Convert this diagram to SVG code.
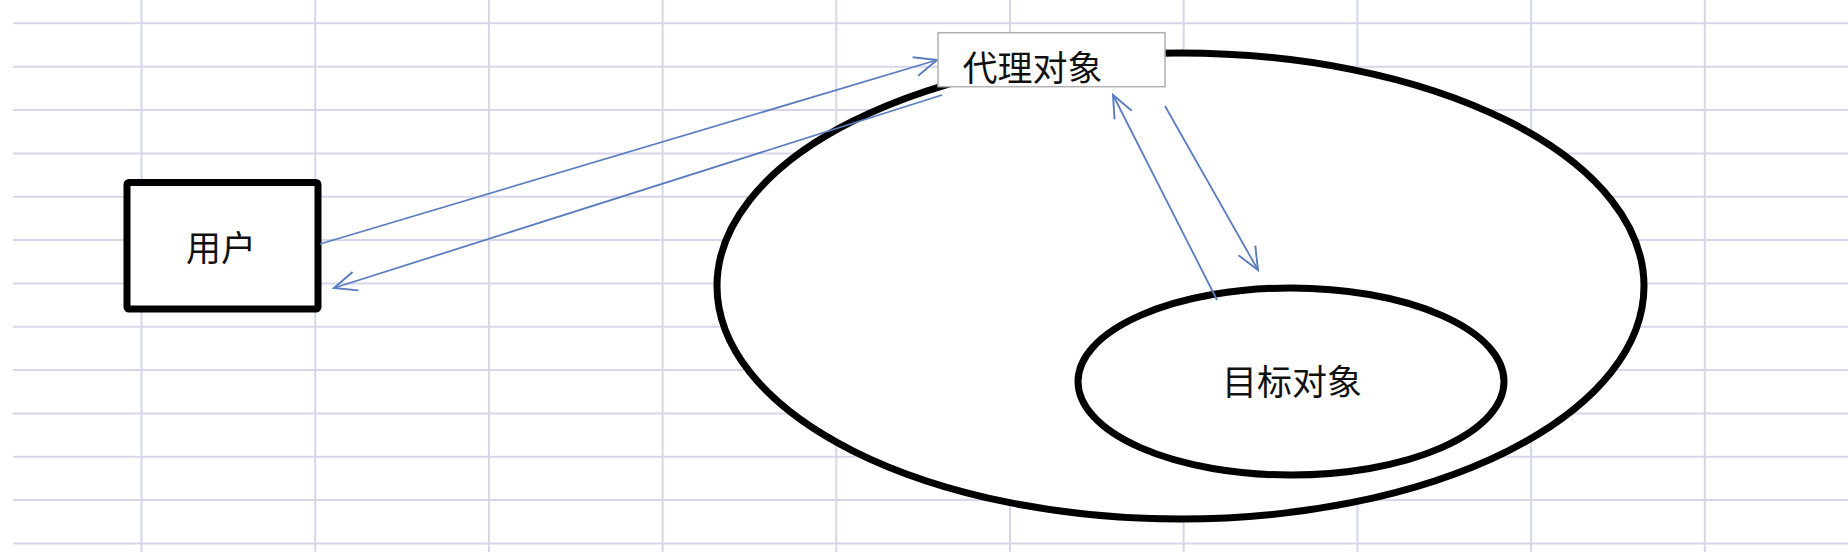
<svg xmlns="http://www.w3.org/2000/svg" width="1848" height="552" viewBox="0 0 1848 552">
<style>
.grid line{stroke:#d6d6ea;stroke-width:2}
.shape{fill:#fff;stroke:#000;stroke-width:7}
.lbl{font-family:"Noto Sans CJK SC","Noto Sans",sans-serif;font-size:35px;fill:#111;text-anchor:middle;dominant-baseline:central}
.conn line{stroke:#5b7dbf;stroke-width:1.8;fill:none;marker-end:url(#arr)}
</style>
<defs>
<marker id="arr" markerUnits="userSpaceOnUse" markerWidth="30" markerHeight="30" viewBox="-24 -12 28 24" refX="0" refY="0" orient="auto">
<path d="M-21,-9 L0,0 L-21,9" fill="none" stroke="#5b7dbf" stroke-width="1.8"/>
</marker>
</defs>
<rect width="1848" height="552" fill="#fff"/>
<g class="grid">
<line x1="13" y1="23.3" x2="1848" y2="23.3"/>
<line x1="13" y1="66.7" x2="1848" y2="66.7"/>
<line x1="13" y1="110" x2="1848" y2="110"/>
<line x1="13" y1="153.4" x2="1848" y2="153.4"/>
<line x1="13" y1="196.7" x2="1848" y2="196.7"/>
<line x1="13" y1="240" x2="1848" y2="240"/>
<line x1="13" y1="283.4" x2="1848" y2="283.4"/>
<line x1="13" y1="326.7" x2="1848" y2="326.7"/>
<line x1="13" y1="370" x2="1848" y2="370"/>
<line x1="13" y1="413.4" x2="1848" y2="413.4"/>
<line x1="13" y1="456.7" x2="1848" y2="456.7"/>
<line x1="13" y1="500" x2="1848" y2="500"/>
<line x1="13" y1="543.4" x2="1848" y2="543.4"/>
<line x1="141.5" y1="0" x2="141.5" y2="552"/>
<line x1="315.2" y1="0" x2="315.2" y2="552"/>
<line x1="488.9" y1="0" x2="488.9" y2="552"/>
<line x1="662.6" y1="0" x2="662.6" y2="552"/>
<line x1="836.3" y1="0" x2="836.3" y2="552"/>
<line x1="1010" y1="0" x2="1010" y2="552"/>
<line x1="1183.7" y1="0" x2="1183.7" y2="552"/>
<line x1="1357.4" y1="0" x2="1357.4" y2="552"/>
<line x1="1531.1" y1="0" x2="1531.1" y2="552"/>
<line x1="1704.8" y1="0" x2="1704.8" y2="552"/>
</g>
<g id="outer">
<ellipse class="shape" cx="1180.5" cy="286" rx="463.5" ry="233"/>
</g>
<g id="target">
<ellipse class="shape" cx="1291" cy="381.5" rx="213" ry="93.5"/>
<text class="lbl" x="1292" y="379">目标对象</text>
</g>
<g id="user">
<rect class="shape" x="127" y="182.5" width="191" height="126.5" rx="2"/>
<text class="lbl" x="221" y="245">用户</text>
</g>
<g class="conn">
<line x1="320" y1="244" x2="937" y2="60"/>
<line x1="942" y1="95" x2="334" y2="288"/>
<line x1="1217" y1="300" x2="1113" y2="95"/>
<line x1="1165" y1="106" x2="1258" y2="270"/>
</g>
<g id="proxy">
<rect x="938" y="32.7" width="227" height="54" fill="#fff" stroke="#b0b0b0" stroke-width="1.5"/>
<text class="lbl" x="1032.5" y="65.5">代理对象</text>
</g>
</svg>
